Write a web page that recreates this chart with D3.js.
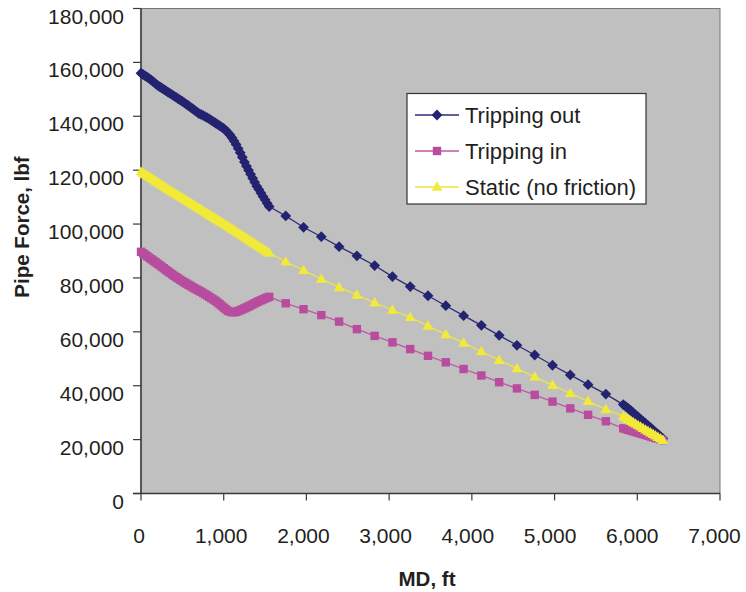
<!DOCTYPE html>
<html><head><meta charset="utf-8">
<script src="https://cdn.jsdelivr.net/npm/d3@7"></script>
<style>body{margin:0;background:#fff}svg{display:block}text{font-family:"Liberation Sans",Arial,sans-serif;fill:#231f20}</style>
</head><body><svg id="c" width="746" height="592"></svg>
<script>
// Measured depth, ft
const md = [0,25,50,75,100,125,150,175,200,225,250,275,300,325,350,375,400,425,450,475,500,525,550,575,600,625,650,675,700,725,750,775,800,825,850,875,900,925,950,975,1000,1025,1050,1075,1100,1125,1150,1175,1200,1225,1250,1275,1300,1325,1350,1375,1400,1425,1450,1475,1500,1525,1550,
  1750,1965,2180,2395,2610,2825,3040,3255,3470,3685,3900,4115,4330,4545,4760,4975,5190,5405,5620,
  5830,5860,5890,5920,5950,5980,6010,6040,6070,6100,6130,6160,6190,6220,6250,6280,6310];
// Pipe force, lbf
const trippingOut = [156000,155500,155000,154500,154000,153400,152800,152100,151500,151000,150500,150000,149500,149000,148500,148000,147500,147000,146500,146000,145500,145000,144400,143900,143300,142800,142200,141600,141000,140700,140300,139900,139500,139000,138500,138000,137500,137000,136500,136000,135500,134800,134000,133100,132000,130800,129500,128000,126500,124800,123000,121500,120000,118500,117000,115500,114000,112800,111500,110200,109000,107700,106500,
  103000,98800,95300,91600,88200,84600,80500,76800,73400,69700,66000,62400,58700,55000,51400,47600,44000,40400,36900,
  33000,32300,31600,30800,30000,29200,28400,27600,26800,26000,25200,24400,23600,22800,22000,21200,20400];
const trippingIn = [89700,89150,88600,88050,87500,86950,86400,85850,85300,84750,84200,83600,83000,82450,81900,81350,80800,80300,79800,79300,78800,78350,77900,77450,77000,76550,76100,75700,75300,74850,74400,73950,73500,73000,72500,72000,71500,70900,70300,69650,69000,68400,67800,67500,67300,67300,67400,67700,68000,68350,68700,69050,69400,69800,70200,70600,71000,71350,71700,72050,72400,72700,73000,
  70600,68400,66200,63800,61000,58500,56100,53600,51100,48700,46200,43800,41300,39000,36600,34100,31600,29200,26800,
  24200,23900,23650,23350,23100,22800,22550,22250,22000,21700,21450,21150,20900,20600,20350,20050,19800];
const staticForce = [119400,118900,118400,117950,117500,117000,116500,116000,115500,115000,114500,114000,113500,113000,112500,112050,111600,111100,110600,110150,109700,109200,108700,108250,107800,107300,106800,106350,105900,105400,104900,104450,104000,103500,103000,102550,102100,101600,101100,100650,100200,99700,99200,98700,98200,97700,97200,96700,96200,95700,95200,94700,94200,93700,93200,92700,92200,91700,91200,90700,90200,89750,89300,
  86000,82900,79600,76500,73700,70800,68100,65400,62200,59000,55900,52700,49500,46400,43300,40200,37200,34200,31200,
  28600,28050,27500,26950,26400,25850,25300,24750,24200,23650,23100,22550,22000,21450,20900,20350,19800];
const seriesNames = ["Tripping out","Tripping in","Static (no friction)"];
const xTicks = [0,1000,2000,3000,4000,5000,6000,7000];
const yTicks = [0,20000,40000,60000,80000,100000,120000,140000,160000,180000];

const svg = d3.select("#c");
const L = 141, R = 720, T = 8.5, B = 493.5;
const x = d3.scaleLinear().domain([0,7000]).range([L,R]);
const y = d3.scaleLinear().domain([0,180000]).range([B,T]);
const fmt = d3.format(",");

svg.append("rect").attr("x",L).attr("y",T).attr("width",R-L).attr("height",B-T)
  .attr("fill","#c0c0c0").attr("stroke","#777").attr("stroke-width",1);

// y axis
const ya = svg.append("g");
ya.append("line").attr("x1",L).attr("x2",L).attr("y1",T).attr("y2",B).attr("stroke","#3a3a3a").attr("stroke-width",1.5);
yTicks.forEach(t=>{
  ya.append("line").attr("x1",L-8).attr("x2",L).attr("y1",y(t)).attr("y2",y(t)).attr("stroke","#3a3a3a").attr("stroke-width",1.2);
  ya.append("text").attr("x",124).attr("y",y(t)+15).attr("text-anchor","end").attr("font-size",21).text(fmt(t));
});
// x axis
const xa = svg.append("g");
xa.append("line").attr("x1",L-8).attr("x2",R).attr("y1",B).attr("y2",B).attr("stroke","#3a3a3a").attr("stroke-width",1.5);
xTicks.forEach(t=>{
  xa.append("line").attr("x1",x(t)).attr("x2",x(t)).attr("y1",B).attr("y2",B+7).attr("stroke","#3a3a3a").attr("stroke-width",1.2);
  xa.append("text").attr("x",x(t)-2-t/2000).attr("y",543).attr("text-anchor","middle").attr("font-size",21).text(fmt(t));
});
svg.append("text").attr("x",427).attr("y",586).attr("text-anchor","middle").attr("font-size",20.5).attr("font-weight","bold").text("MD, ft");
svg.append("text").attr("transform","translate(29,227) rotate(-90)").attr("text-anchor","middle").attr("font-size",20.5).attr("font-weight","bold").text("Pipe Force, lbf");

const diamond = {draw(c,s){const r=5.4;c.moveTo(0,-r);c.lineTo(r,0);c.lineTo(0,r);c.lineTo(-r,0);c.closePath();}};
const square = {draw(c,s){const h=4.2;c.rect(-h,-h,2*h,2*h);}};
const tri = {draw(c,s){const w=5.4,h=9.4;c.moveTo(0,-h*0.6);c.lineTo(w,h*0.4);c.lineTo(-w,h*0.4);c.closePath();}};

const series = [
  {name:seriesNames[0], vals:trippingOut, line:"#2c2c78", fill:"#232370", sym:diamond},
  {name:seriesNames[1], vals:trippingIn, line:"#c057a6", fill:"#b84c9e", sym:square},
  {name:seriesNames[2], vals:staticForce, line:"#efe540", fill:"#f2ea38", sym:tri}
];
const line = d3.line().x(d=>x(d[0])).y(d=>y(d[1]));
series.forEach(s=>{
  const pts = md.map((m,j)=>[m,s.vals[j]]);
  const g = svg.append("g");
  g.append("path").attr("d",line(pts)).attr("fill","none").attr("stroke",s.line).attr("stroke-width",1.3);
  g.selectAll("path.m").data(pts).join("path").attr("class","m")
    .attr("transform",d=>`translate(${x(d[0])},${y(d[1])})`)
    .attr("d",d3.symbol().type(s.sym)()).attr("fill",s.fill);
});

// legend
const lg = svg.append("g");
lg.append("rect").attr("x",407).attr("y",93.5).attr("width",239).attr("height",110.5).attr("fill","#fff").attr("stroke","#333").attr("stroke-width",1.2);
const rows=[115,151,187];
series.forEach((s,i)=>{
  lg.append("line").attr("x1",415).attr("x2",459).attr("y1",rows[i]).attr("y2",rows[i]).attr("stroke",s.line).attr("stroke-width",1.5);
  lg.append("path").attr("transform",`translate(437,${rows[i]})`).attr("d",d3.symbol().type(s.sym)()).attr("fill",s.fill);
  lg.append("text").attr("x",465).attr("y",rows[i]+8).attr("font-size",22).text(s.name);
});
</script></body></html>
